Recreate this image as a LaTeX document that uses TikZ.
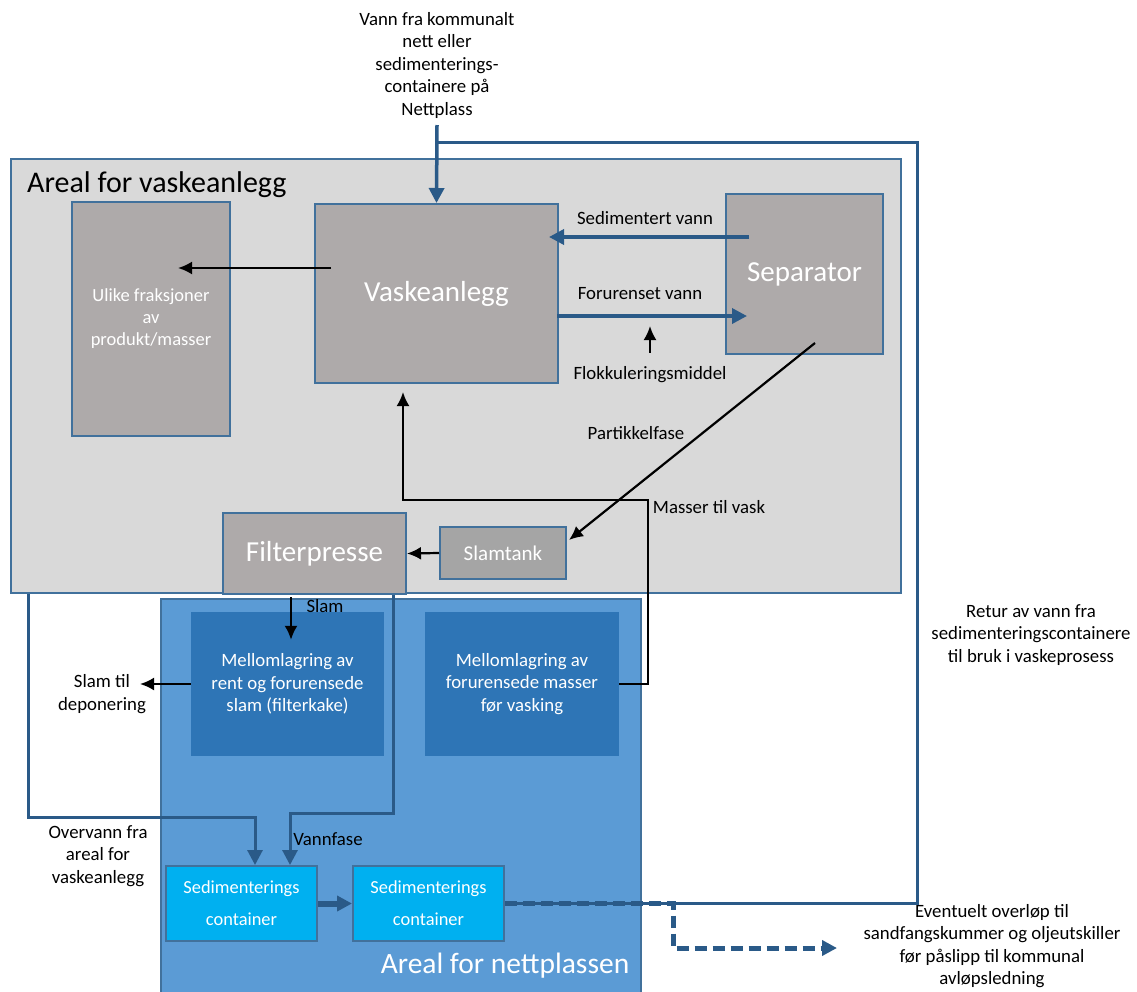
\documentclass[tikz,border=0pt]{standalone}
\usepackage{fontspec}
\setmainfont{Carlito}
\usetikzlibrary{arrows.meta}

\definecolor{areagray}{HTML}{D9D9D9}
\definecolor{areaedge}{HTML}{41719C}
\definecolor{unitgray}{HTML}{AEAAAA}
\definecolor{tankgray}{HTML}{A5A5A5}
\definecolor{siteblue}{HTML}{5B9BD5}
\definecolor{storeblue}{HTML}{2E75B6}
\definecolor{sedblue}{HTML}{00B0F0}
\definecolor{pipeblue}{HTML}{2A5A88}

\tikzset{
  area/.style={draw=areaedge, line width=2pt, inner sep=0pt, anchor=north west},
  unit/.style={draw=areaedge, line width=2pt, fill=unitgray, text=white, inner sep=0pt, align=center},
  store/.style={fill=storeblue, text=white, inner sep=0pt, align=center, font=\fontsize{18.8}{22.5}\selectfont},
  sedbox/.style={draw=areaedge, line width=2pt, fill=sedblue, text=white, inner sep=0pt, align=center, font=\fontsize{18.4}{32}\selectfont},
  lbl/.style={align=center, inner sep=0pt, font=\fontsize{18.8}{22.5}\selectfont},
  flow/.style={draw=black, line width=2.2pt, -{Latex[length=14pt,width=13pt]}},
  pipe/.style={draw=pipeblue, line width=3.5pt, -{Triangle[length=15pt,width=15pt]}},
}

\begin{document}
\begin{tikzpicture}[x=1pt,y=-1pt]
	\useasboundingbox (0,0) rectangle (1137,991);

	% Define areas
	\node [area, fill=areagray, minimum width=890pt, minimum height=434pt] (wash) at (10,158) {};
	\node [area, fill=siteblue, minimum width=480pt, minimum height=410pt] (site) at (160,598) {};
	\node [anchor=west, inner sep=0pt, font=\fontsize{30}{32}\selectfont] (washtitle) at (27,185) {Areal for vaskeanlegg};
	\node [text=white, inner sep=0pt, font=\fontsize{29.5}{32}\selectfont] (sitetitle) at (505,966) {Areal for nettplassen};

	% Define nodes
	\node [unit, minimum width=158pt, minimum height=234pt, font=\fontsize{18.5}{22}\selectfont] (ulike) at (151,319) {Ulike fraksjoner\\av\\produkt/masser};
	\node [unit, minimum width=243pt, minimum height=179pt, font=\fontsize{29}{32}\selectfont] (vask) at (436.5,293.5) {Vaskeanlegg};
	\node [unit, minimum width=157pt, minimum height=160pt, font=\fontsize{29}{32}\selectfont] (sep) at (804.5,274) {Separator};
	\node [unit, minimum width=183pt, minimum height=81pt, font=\fontsize{29}{32}\selectfont] (filter) at (314.5,553.5) {Filterpresse};
	\node [unit, fill=tankgray, minimum width=126pt, minimum height=52pt, font=\fontsize{21}{24}\selectfont] (tank) at (503,553) {Slamtank};
	\node [store, minimum width=193pt, minimum height=144pt] (mel1) at (287.5,684) {Mellomlagring av\\rent og forurensede\\slam (filterkake)};
	\node [store, minimum width=194pt, minimum height=144pt] (mel2) at (522,684) {Mellomlagring av\\forurensede masser\\før vasking};
	\node [sedbox, minimum width=151pt, minimum height=75pt] (sed1) at (241.5,903.5) {Sedimenterings\\container};
	\node [sedbox, minimum width=151pt, minimum height=75pt] (sed2) at (428.5,903.5) {Sedimenterings\\container};

	% Labels
	\node [lbl] (inlbl) at (437,65) {Vann fra kommunalt\\nett eller\\sedimenterings-\\containere på\\Nettplass};
	\node [lbl] (sedlbl) at (645,218) {Sedimentert vann};
	\node [lbl] (forlbl) at (640,294) {Forurenset vann};
	\node [lbl] (flokk) at (650,375) {Flokkuleringsmiddel};
	\node [lbl] (partlbl) at (636,433) {Partikkelfase};
	\node [lbl] (masslbl) at (709,507) {Masser til vask};
	\node [lbl] (slamlbl) at (325,606) {Slam};
	\node [lbl] (deplbl) at (102,694) {Slam til\\deponering};
	\node [lbl] (vannlbl) at (328,839) {Vannfase};
	\node [lbl] (overlbl) at (98,856) {Overvann fra\\areal for\\vaskeanlegg};
	\node [lbl] (returlbl) at (1031,635) {Retur av vann fra\\sedimenteringscontainere\\til bruk i vaskeprosess};
	\node [lbl] (overflowlbl) at (992,946) {Eventuelt overløp til\\sandfangskummer og oljeutskiller\\før påslipp til kommunal\\avløpsledning};

	% Free ends
	\coordinate (inlet) at (437,125);
	\coordinate (retcorner) at (917,142);
	\coordinate (retjoin) at (437,142);
	\coordinate (dose) at (650,326);
	\coordinate (depot) at (140,684);
	\coordinate (washturn) at (648,500);
	\coordinate (overflow) at (837,948);

	% Draw water lines
	\draw [pipe] (inlet) -- (vask.north);
	\draw [pipe, -, line width=3pt] (sed2.east) -| (retcorner) -- (retjoin);
	\draw [pipe, line width=5pt, dash pattern=on 12pt off 6pt] (sed2.east) -- ++(168,0) |- (overflow);
	\draw [pipe] ([shift={(24,-37)}]sep.west) -- ([shift={(-10,-56.5)}]vask.east);
	\draw [pipe] ([shift={(-2,22.5)}]vask.east) -- ([shift={(22,42)}]sep.west);
	\draw [pipe, line width=3pt] ([xshift=-14pt]filter.south east) -- ++(0,218) -| ([xshift=48.5pt]sed1.north);
	\draw [pipe, line width=3pt] ([xshift=18pt]wash.south west) -- ++(0,223) -| ([xshift=13.5pt]sed1.north);
	\draw [pipe, line width=6pt] (sed1.east) -- (sed2.west);

	% Draw mass flows
	\draw [flow] ([yshift=14pt]flokk.north) -- (dose);
	\draw [flow] ([shift={(17,-25.5)}]vask.west) -- ([shift={(27,-51)}]ulike.center);
	\draw [flow] ([shift={(10.5,-12)}]sep.south) -- ([shift={(2,-13)}]tank.east);
	\draw [flow] (tank.west) -- (filter.east);
	\draw [flow] (mel2.east) -| (washturn) -| ([shift={(-33.5,8)}]vask.south);
	\draw [flow] ([shift={(-23.5,2)}]filter.south) -- ([shift={(3.5,28)}]mel1.north);
	\draw [flow] (mel1.west) -- (depot);
\end{tikzpicture}
\end{document}
